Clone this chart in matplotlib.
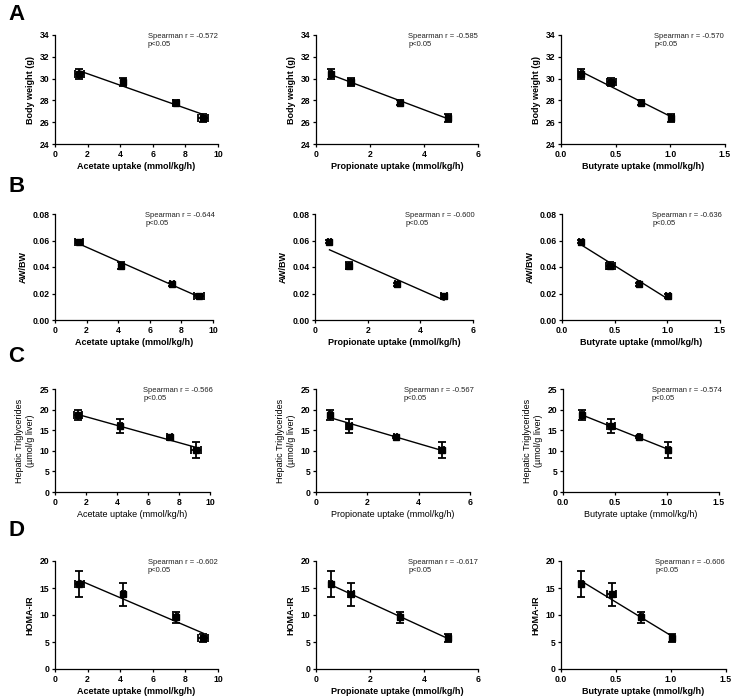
import numpy as np
import matplotlib
matplotlib.use("Agg")
import matplotlib.pyplot as plt

plt.rcParams['font.family'] = ['Liberation Sans', 'DejaVu Sans']

W, H = 734, 697

# uptake values (means, SEM) for the four groups
acetate = [1.5, 4.2, 7.4, 9.1]
acetate_err = [0.25, 0.12, 0.15, 0.3]
propionate = [0.55, 1.3, 3.1, 4.9]
propionate_err = [0.06, 0.12, 0.05, 0.1]
butyrate = [0.18, 0.46, 0.73, 1.01]
butyrate_err = [0.02, 0.04, 0.012, 0.02]

# outcomes (means, SEM)
body_weight = [30.4, 29.7, 27.8, 26.4]
body_weight_err = [0.45, 0.35, 0.2, 0.35]
aw_bw = [0.059, 0.041, 0.027, 0.018]
aw_bw_err = [0.0012, 0.0028, 0.001, 0.0015]
hepatic_tg = [18.6, 16.0, 13.4, 10.2]
hepatic_tg_err = [1.2, 1.6, 0.3, 1.9]
homa_ir = [15.7, 13.8, 9.6, 5.7]
homa_ir_err = [2.4, 2.1, 1.0, 0.7]

spearman = [[-0.572, -0.585, -0.570],
            [-0.644, -0.600, -0.636],
            [-0.566, -0.567, -0.574],
            [-0.602, -0.617, -0.606]]

x_sets = [(acetate, acetate_err, 'Acetate uptake (mmol/kg/h)', (0, 10), [0, 2, 4, 6, 8, 10], '%d'),
          (propionate, propionate_err, 'Propionate uptake (mmol/kg/h)', (0, 6), [0, 2, 4, 6], '%d'),
          (butyrate, butyrate_err, 'Butyrate uptake (mmol/kg/h)', (0, 1.5), [0, 0.5, 1.0, 1.5], '%.1f')]

y_sets = [(body_weight, body_weight_err, 'Body weight (g)', (24, 34), [24, 26, 28, 30, 32, 34], '%d'),
          (aw_bw, aw_bw_err, 'AW/BW', (0, 0.08), [0, 0.02, 0.04, 0.06, 0.08], '%.2f'),
          (hepatic_tg, hepatic_tg_err, 'Hepatic Triglycerides\n(\u00b5mol/g liver)', (0, 25), [0, 5, 10, 15, 20, 25], '%d'),
          (homa_ir, homa_ir_err, 'HOMA-IR', (0, 20), [0, 5, 10, 15, 20], '%d')]

letters = ['A', 'B', 'C', 'D']
letter_y = [15, 186, 356, 530]

# axes boxes in pixels: (left, right) per column, (top, bottom) per row
cols = [[(55, 218), (316, 478), (561, 725)],
        [(55, 213), (315, 473), (562, 720)],
        [(55, 210), (316, 470), (563, 719)],
        [(55, 218), (316, 478), (561, 726)]]
rows = [(35, 144), (214, 320), (389, 492), (561, 669)]

fig = plt.figure(figsize=(W / 100, H / 100), dpi=100)

for r in range(4):
    yv, ye, ylab, ylim, yticks, yfmt = y_sets[r]
    top, bot = rows[r]
    weight = 'normal' if r == 2 else 'bold'
    fig.text(8 / W, 1 - letter_y[r] / H, letters[r], fontsize=16, fontweight='bold',
             va='center', ha='left')
    for c in range(3):
        xv, xe, xlab, xlim, xticks, xfmt = x_sets[c]
        left, right = cols[r][c]
        ax = fig.add_axes([left / W, 1 - bot / H, (right - left) / W, (bot - top) / H])

        slope, icpt = np.polyfit(xv, yv, 1)
        xs = np.array([min(xv), max(xv)])
        ax.plot(xs, slope * xs + icpt, color='black', lw=1.0, zorder=2)
        ax.errorbar(xv, yv, xerr=xe, yerr=ye, fmt='s', color='black', ms=4.5,
                    ecolor='black', elinewidth=1.3, capsize=2.8, capthick=1.3, zorder=3)

        ax.set_xlim(*xlim)
        ax.set_ylim(*ylim)
        ax.set_xticks(xticks)
        ax.set_yticks(yticks)
        ax.set_xticklabels([xfmt % t for t in xticks], fontsize=6.2, fontweight='bold')
        ax.set_yticklabels([yfmt % t for t in yticks], fontsize=6.2, fontweight='bold')
        ax.set_xlabel(xlab, fontsize=6.5, fontweight=weight, labelpad=2.5)
        ax.set_ylabel(ylab, fontsize=6.5, fontweight=weight, labelpad=3.5)
        for s in ['top', 'right']:
            ax.spines[s].set_visible(False)
        for s in ['left', 'bottom']:
            ax.spines[s].set_linewidth(0.9)
        ax.tick_params(direction='out', length=2.5, width=0.9, pad=1.5)
        ax.text(0.57, 1.02, 'Spearman r = %.3f\np<0.05' % spearman[r][c],
                transform=ax.transAxes, fontsize=5.5, va='top', ha='left',
                linespacing=1.3, color='#222222')

fig.savefig('out.png', dpi=100)
